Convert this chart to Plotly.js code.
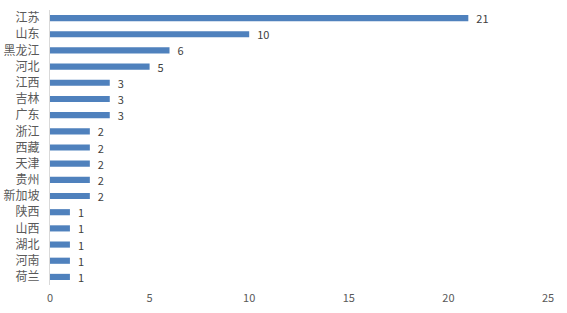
<!DOCTYPE html>
<html><head><meta charset="utf-8">
<script src="https://cdn.plot.ly/plotly-3.0.1.min.js"></script>
<style>html,body{margin:0;padding:0;background:#fff}#c{width:567px;height:313px}</style>
</head><body><div id="c"></div>
<script>
const categories = ["江苏","山东","黑龙江","河北","江西","吉林","广东","浙江","西藏","天津","贵州","新加坡","陕西","山西","湖北","河南","荷兰"];
const values = [21,10,6,5,3,3,3,2,2,2,2,2,1,1,1,1,1];
const xTicks = [0,5,10,15,20,25];

const trace = {
  type: 'bar', orientation: 'h',
  y: categories, x: values,
  marker: {color: '#4F81BD'},
  text: values.map(String), textposition: 'outside', cliponaxis: false,
  constraintext: 'none', insidetextanchor: 'start',
  textfont: {family: 'Noto Sans CJK SC', size: 11, color: '#404040'},
  hoverinfo: 'none'
};
const layout = {
  width: 567, height: 313,
  margin: {l: 50, r: 19, t: 10, b: 28},
  paper_bgcolor: '#fff', plot_bgcolor: '#fff',
  bargap: 0.62,
  showlegend: false,
  font: {family: 'Noto Sans CJK SC', color: '#595959'},
  xaxis: {range: [0, 25], tickvals: xTicks, ticktext: xTicks.map(String), showgrid: false, zeroline: false,
          showline: false, ticks: '', ticklabelstandoff: 5, tickfont: {size: 11, color: '#595959'}, fixedrange: true},
  yaxis: {autorange: 'reversed', showgrid: false, zeroline: false, showline: true, linecolor: '#d9d9d9', linewidth: 1,
          ticks: '', ticklabelstandoff: 7, tickfont: {size: 12, color: '#595959'}, fixedrange: true}
};
Plotly.newPlot('c', [trace], layout, {staticPlot: true}).then(() => {
  // shift data labels slightly right to match the reference gap
  document.querySelectorAll('.bartext').forEach(t => {
    const tr = t.getAttribute('transform') || '';
    t.setAttribute('transform', 'translate(5,0) ' + tr);
  });
});
</script></body></html>
